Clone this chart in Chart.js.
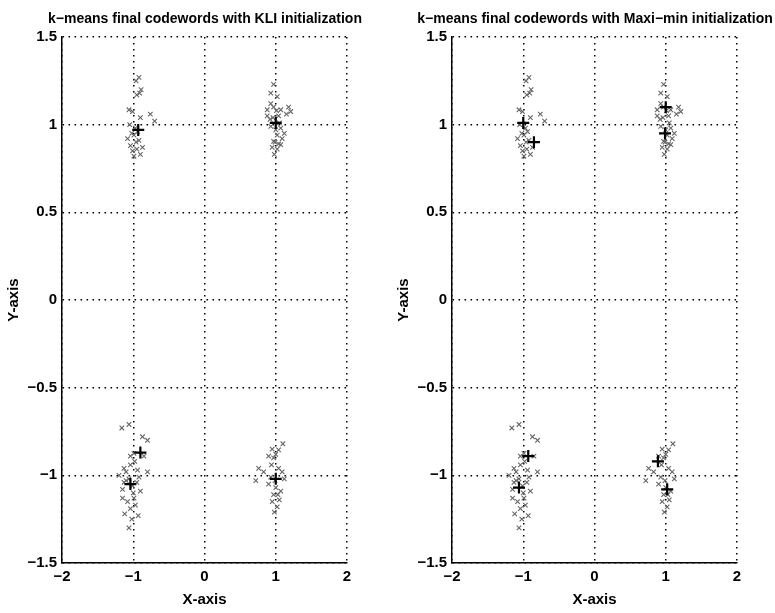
<!DOCTYPE html>
<html>
<head>
<meta charset="utf-8">
<script src="https://cdn.jsdelivr.net/npm/chart.js@4.4.0/dist/chart.umd.min.js"></script>
<style>
    body { margin: 0; background: #fff; }
    #wrap { position: relative; width: 775px; height: 613px; }
    canvas { position: absolute; top: 0; }
    .ttl {
        position: absolute; top: 10px; width: 400px; margin-left: -200px;
        text-align: center; white-space: nowrap;
        font: bold 14px "Liberation Sans", Arial, sans-serif; line-height: 16px; color: #000;
    }
</style>
</head>
<body>
<div id="wrap">
    <canvas id="chartKli" width="390" height="613" style="left:0"></canvas>
    <canvas id="chartMaxi" width="385" height="613" style="left:390px"></canvas>
    <div class="ttl" style="left:205px">k−means final codewords with KLI initialization</div>
    <div class="ttl" style="left:595px">k−means final codewords with Maxi−min initialization</div>
</div>
<script>
// tick labels
const xTickLabels = ['\u22122', '\u22121', '0', '1', '2'];
const yTickLabels = ['\u22121.5', '\u22121', '\u22120.5', '0', '0.5', '1', '1.5'];

// training vectors (same set in both plots), [x, y]
const clusterNW = [
    [-0.92, 1.27], [-0.96, 1.25], [-0.91, 1.18], [-0.95, 1.17], [-0.89, 1.20],
    [-1.06, 1.085], [-1.01, 1.075], [-0.90, 1.04], [-0.70, 1.02], [-0.76, 1.06],
    [-0.97, 0.98], [-1.08, 0.92], [-0.99, 0.94], [-0.92, 0.91], [-1.04, 0.88],
    [-0.87, 0.87], [-0.99, 0.82], [-0.90, 0.83], [-0.95, 0.86], [-1.02, 0.95],
    [-0.94, 0.96], [-1.05, 1.00], [-0.96, 0.90], [-1.01, 0.85]
];
const clusterNE = [
    [0.97, 1.23], [0.93, 1.18], [1.02, 1.16], [0.88, 1.085], [0.97, 1.10],
    [1.07, 1.085], [1.18, 1.10], [1.21, 1.075], [1.15, 1.06], [0.88, 1.05],
    [1.04, 1.05], [0.93, 0.99], [1.07, 0.98], [1.02, 0.94], [1.09, 0.92],
    [0.97, 0.905], [1.07, 0.886], [0.95, 0.87], [1.02, 0.86], [0.92, 1.03],
    [1.00, 0.97], [1.12, 0.95], [0.98, 0.83], [0.93, 1.12], [1.01, 1.08],
    [0.96, 1.04], [1.05, 1.01], [0.99, 0.90], [1.04, 0.89]
];
const clusterSW = [
    [-1.16, -0.73], [-1.06, -0.71], [-0.87, -0.78], [-0.80, -0.80], [-0.99, -0.875],
    [-1.04, -0.89], [-0.85, -0.89], [-1.13, -0.96], [-1.04, -0.94], [-0.94, -0.97],
    [-0.80, -0.98], [-1.20, -1.00], [-1.10, -1.03], [-0.95, -1.04], [-1.15, -1.08],
    [-1.00, -1.10], [-0.90, -1.09], [-1.08, -1.15], [-0.97, -1.17], [-1.12, -1.22],
    [-1.02, -1.25], [-0.93, -1.23], [-1.06, -1.30], [-1.15, -1.13], [-0.98, -0.92],
    [-1.10, -0.98], [-1.06, -1.02], [-1.01, -1.06], [-0.92, -1.01], [-1.13, -1.04],
    [-1.04, -1.19], [-0.99, -1.13]
];
const clusterSE = [
    [0.95, -0.85], [1.04, -0.855], [1.10, -0.82], [0.90, -0.89], [0.97, -0.90],
    [0.76, -0.96], [0.83, -0.98], [1.04, -0.96], [1.09, -0.98], [0.72, -1.03],
    [0.93, -1.01], [1.00, -1.07], [1.07, -1.09], [0.97, -1.11], [0.95, -1.15],
    [1.02, -1.18], [0.98, -1.21], [1.05, -1.14], [0.90, -1.05], [1.12, -1.02],
    [0.99, -1.03], [1.03, -1.11], [0.94, -0.94], [1.00, -0.88]
];

// final codewords
const codewordsKli = [[-0.93, 0.97], [1.00, 1.01], [-0.90, -0.87], [-1.04, -1.05], [1.00, -1.02]];
const codewordsMaxi = [
    [-1.00, 1.01], [-0.85, 0.90], [1.00, 1.10], [0.99, 0.95],
    [-0.93, -0.89], [-1.06, -1.07], [0.89, -0.92], [1.02, -1.08]
];

const allPoints = [].concat(clusterNW, clusterNE, clusterSW, clusterSE);
const toXY = arr => arr.map(p => ({ x: p[0], y: p[1] }));

const FONT = '"Liberation Sans", Arial, sans-serif';

function makeChart(id, codewords, padRight) {
    const ctx = document.getElementById(id).getContext('2d');
    return new Chart(ctx, {
        type: 'scatter',
        data: {
            datasets: [{
                label: 'codewords',
                data: toXY(codewords),
                pointStyle: 'cross',
                pointRadius: 6,
                borderColor: '#000',
                borderWidth: 2.2,
            }, {
                label: 'data',
                data: toXY(allPoints),
                pointStyle: 'crossRot',
                pointRadius: 3.2,
                borderColor: '#666',
                borderWidth: 1.1,
            }]
        },
        options: {
            responsive: false,
            animation: false,
            layout: { padding: { left: 0, right: padRight, top: 37, bottom: 0 } },
            plugins: {
                legend: { display: false },
                tooltip: { enabled: false },
                title: { display: false }
            },
            scales: {
                x: {
                    type: 'linear',
                    min: -2, max: 2,
                    afterFit: s => { s.height = 50; },
                    ticks: {
                        stepSize: 1,
                        padding: 5,
                        color: '#000',
                        font: { family: FONT, size: 15, weight: 'bold' },
                        callback: (v, i) => xTickLabels[i],
                        maxRotation: 0,
                    },
                    grid: { color: '#000', lineWidth: 1.5, drawTicks: false },
                    border: { display: true, color: '#000', width: 1.5, dash: [1.6, 4.4] },
                    title: {
                        display: true, text: 'X-axis', color: '#000',
                        font: { family: FONT, size: 15, weight: 'bold' },
                        padding: { top: 0, bottom: 4 },
                    }
                },
                y: {
                    type: 'linear',
                    min: -1.5, max: 1.5,
                    afterFit: s => { s.width = 62; },
                    ticks: {
                        stepSize: 0.5,
                        padding: 5,
                        color: '#000',
                        font: { family: FONT, size: 15, weight: 'bold' },
                        callback: (v, i) => yTickLabels[i],
                    },
                    grid: { color: '#000', lineWidth: 1.5, drawTicks: false },
                    border: { display: true, color: '#000', width: 1.5, dash: [1.6, 4.4] },
                    title: {
                        display: true, text: 'Y-axis', color: '#000',
                        font: { family: FONT, size: 15, weight: 'bold' },
                        padding: { top: 5, bottom: 0 },
                    }
                }
            }
        }
    });
}

makeChart('chartKli', codewordsKli, 43);
makeChart('chartMaxi', codewordsMaxi, 38);
</script>
</body>
</html>
